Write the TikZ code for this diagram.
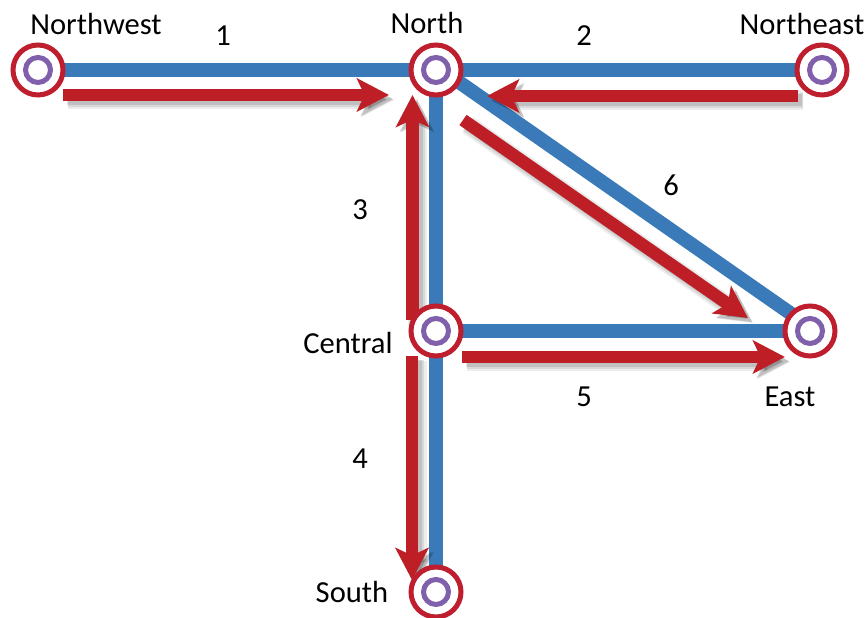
\documentclass[tikz,border=0pt]{standalone}
\usepackage{fontspec}
\setmainfont{Carlito}
\usetikzlibrary{arrows.meta}
\definecolor{linea}{RGB}{58, 122, 184}
\definecolor{flecha}{RGB}{190, 30, 38}
\definecolor{anillo}{RGB}{190, 30, 45}
\definecolor{centro}{RGB}{128, 96, 170}

\begin{document}
\begin{tikzpicture}[
ringnode/.style={circle, inner sep=0pt, minimum size=1.0cm, line width=.1cm, draw=anillo, fill=white},
innode/.style={circle, inner sep=0pt, minimum size=.5cm, line width=.1cm, draw=centro, fill=white},
textnode/.style={font=\fontsize{17.4}{19}\selectfont, text=black},
blueline/.style={line width=.28cm, linea},
redarrow/.style={line width=.25cm, flecha, -{Stealth[length=.64cm, width=.66cm, inset=.15cm]},
  preaction={draw=black, opacity=.07, line width=.38cm, transform canvas={shift={(.1cm,-.1cm)}}},
  preaction={draw=black, opacity=.09, line width=.31cm, transform canvas={shift={(.09cm,-.09cm)}}},
  preaction={draw=black, opacity=.11, line width=.24cm, transform canvas={shift={(.08cm,-.08cm)}}}},
]
\useasboundingbox (0,0) rectangle (17.34,12.36);

%Coordinates of the arrows
\coordinate (a1) at (1.26, 10.46);
\coordinate (b1) at (7.78, 10.46);
\coordinate (a2) at (15.96, 10.44);
\coordinate (b2) at (9.74, 10.44);
\coordinate (a3) at (8.25, 5.96);
\coordinate (b3) at (8.25, 10.46);
\coordinate (a4) at (8.24, 5.24);
\coordinate (b4) at (8.24, 0.76);
\coordinate (a5) at (9.24, 5.22);
\coordinate (b5) at (15.70, 5.22);
\coordinate (a6) at (9.26, 9.96);
\coordinate (b6) at (14.96, 6.0);

%Blue lines
\coordinate (pNW) at (0.76, 10.96);
\coordinate (pN) at (8.72, 10.96);
\coordinate (pNE) at (16.44, 10.96);
\coordinate (pC) at (8.72, 5.74);
\coordinate (pE) at (16.2, 5.74);
\coordinate (pS) at (8.72, 0.52);
\coordinate (dN) at (8.72, 11.04);
\coordinate (dE) at (16.2, 5.82);

\draw[blueline] (pNW) -- (pN);
\draw[blueline] (pN) -- (pNE);
\draw[blueline] (pN) -- (pC);
\draw[blueline] (pC) -- (pS);
\draw[blueline] (pC) -- (pE);
\draw[blueline] (dN) -- (dE);

%Red arrows
\draw[redarrow] (a1) -- (b1);
\draw[redarrow] (a2) -- (b2);
\draw[redarrow] (a3) -- (b3);
\draw[redarrow] (a4) -- (b4);
\draw[redarrow] (a5) -- (b5);
\draw[redarrow] (a6) -- (b6);

%Nodes
\node[ringnode] (Northwest) at (pNW) {};
\node[ringnode] (North) at (pN) {};
\node[ringnode] (Northeast) at (pNE) {};
\node[ringnode] (Central) at (pC) {};
\node[ringnode] (East) at (pE) {};
\node[ringnode] (South) at (pS) {};

\node[innode] (iNW) at (pNW) {};
\node[innode] (iN) at (pN) {};
\node[innode] (iNE) at (pNE) {};
\node[innode] (iC) at (pC) {};
\node[innode] (iE) at (pE) {};
\node[innode] (iS) at (pS) {};

%Labels
\node[textnode] (tNW) at (1.92, 11.88) {Northwest};
\node[textnode] (tN) at (8.54, 11.9) {North};
\node[textnode] (tNE) at (16.04, 11.88) {Northeast};
\node[textnode] (tC) at (6.96, 5.5) {Central};
\node[textnode] (tE) at (15.8, 4.42) {East};
\node[textnode] (tS) at (7.04, 0.52) {South};

\node[textnode] (n1) at (4.46, 11.64) {1};
\node[textnode] (n2) at (11.68, 11.64) {2};
\node[textnode] (n3) at (7.2, 8.16) {3};
\node[textnode] (n4) at (7.2, 3.18) {4};
\node[textnode] (n5) at (11.68, 4.42) {5};
\node[textnode] (n6) at (13.42, 8.66) {6};
\end{tikzpicture}
\end{document}
